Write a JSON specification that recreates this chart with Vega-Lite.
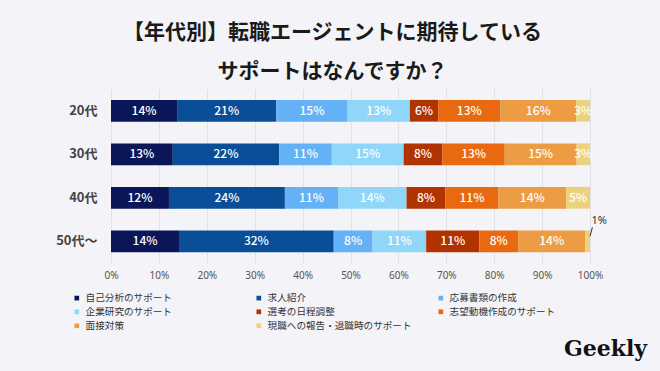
{
  "$schema": "https://vega.github.io/schema/vega-lite/v6.json",
  "width": 479,
  "height": 174,
  "autosize": {"type": "none"},
  "padding": {"left": 111, "top": 89, "right": 70, "bottom": 108},
  "background": "#f3f3f8",
  "config": {"view": {"stroke": null}, "font": "Noto Sans CJK JP"},
  "title": {
    "text": ["【年代別】転職エージェントに期待している", "サポートはなんですか？"],
    "font": "Noto Sans CJK JP",
    "fontSize": 21,
    "fontWeight": "bold",
    "color": "#1a1a1a",
    "lineHeight": 39,
    "anchor": "middle",
    "dx": -18,
    "offset": 7
  },
  "datasets": {
    "bars": [
      {"age": "20代", "cat": "自己分析のサポート", "k": 1, "v": 13.8, "label": "14%"},
      {"age": "20代", "cat": "求人紹介", "k": 2, "v": 20.7, "label": "21%"},
      {"age": "20代", "cat": "応募書類の作成", "k": 3, "v": 14.9, "label": "15%"},
      {"age": "20代", "cat": "企業研究のサポート", "k": 4, "v": 13.0, "label": "13%"},
      {"age": "20代", "cat": "選考の日程調整", "k": 5, "v": 5.9, "label": "6%"},
      {"age": "20代", "cat": "志望動機作成のサポート", "k": 6, "v": 13.0, "label": "13%"},
      {"age": "20代", "cat": "面接対策", "k": 7, "v": 15.8, "label": "16%"},
      {"age": "20代", "cat": "現職への報告・退職時のサポート", "k": 8, "v": 2.9, "label": "3%"},
      {"age": "30代", "cat": "自己分析のサポート", "k": 1, "v": 12.9, "label": "13%"},
      {"age": "30代", "cat": "求人紹介", "k": 2, "v": 22.2, "label": "22%"},
      {"age": "30代", "cat": "応募書類の作成", "k": 3, "v": 11.0, "label": "11%"},
      {"age": "30代", "cat": "企業研究のサポート", "k": 4, "v": 15.0, "label": "15%"},
      {"age": "30代", "cat": "選考の日程調整", "k": 5, "v": 8.1, "label": "8%"},
      {"age": "30代", "cat": "志望動機作成のサポート", "k": 6, "v": 13.0, "label": "13%"},
      {"age": "30代", "cat": "面接対策", "k": 7, "v": 15.0, "label": "15%"},
      {"age": "30代", "cat": "現職への報告・退職時のサポート", "k": 8, "v": 2.8, "label": "3%"},
      {"age": "40代", "cat": "自己分析のサポート", "k": 1, "v": 12.1, "label": "12%"},
      {"age": "40代", "cat": "求人紹介", "k": 2, "v": 24.2, "label": "24%"},
      {"age": "40代", "cat": "応募書類の作成", "k": 3, "v": 11.1, "label": "11%"},
      {"age": "40代", "cat": "企業研究のサポート", "k": 4, "v": 14.3, "label": "14%"},
      {"age": "40代", "cat": "選考の日程調整", "k": 5, "v": 8.1, "label": "8%"},
      {"age": "40代", "cat": "志望動機作成のサポート", "k": 6, "v": 11.1, "label": "11%"},
      {"age": "40代", "cat": "面接対策", "k": 7, "v": 14.1, "label": "14%"},
      {"age": "40代", "cat": "現職への報告・退職時のサポート", "k": 8, "v": 5.0, "label": "5%"},
      {"age": "50代～", "cat": "自己分析のサポート", "k": 1, "v": 14.2, "label": "14%"},
      {"age": "50代～", "cat": "求人紹介", "k": 2, "v": 32.3, "label": "32%"},
      {"age": "50代～", "cat": "応募書類の作成", "k": 3, "v": 8.1, "label": "8%"},
      {"age": "50代～", "cat": "企業研究のサポート", "k": 4, "v": 11.2, "label": "11%"},
      {"age": "50代～", "cat": "選考の日程調整", "k": 5, "v": 11.1, "label": "11%"},
      {"age": "50代～", "cat": "志望動機作成のサポート", "k": 6, "v": 8.1, "label": "8%"},
      {"age": "50代～", "cat": "面接対策", "k": 7, "v": 14.0, "label": "14%"},
      {"age": "50代～", "cat": "現職への報告・退職時のサポート", "k": 8, "v": 1.0, "label": ""}
    ],
    "note": [
      {"age": "50代～", "from": 100.5, "to": 100.0, "tx": 101.9, "label": "1%"}
    ]
  },
  "encoding": {
    "y": {
      "field": "age",
      "type": "nominal",
      "sort": ["20代", "30代", "40代", "50代～"],
      "scale": {"paddingInner": 0.5, "paddingOuter": 0.25},
      "axis": {
        "title": null,
        "domain": false,
        "ticks": false,
        "labelFontSize": 13,
        "labelColor": "#444444",
        "labelFontWeight": "bold",
        "labelPadding": 14
      }
    }
  },
  "layer": [
    {
      "data": {"name": "bars"},
      "mark": {"type": "bar"},
      "encoding": {
        "x": {
          "field": "v",
          "type": "quantitative",
          "stack": "zero",
          "scale": {"domain": [0, 100], "nice": false},
          "axis": {
            "values": [0, 10, 20, 30, 40, 50, 60, 70, 80, 90, 100],
            "labelExpr": "datum.value + '%'",
            "labelFont": "Noto Sans",
            "labelFontSize": 10,
            "labelColor": "#555555",
            "labelPadding": 7,
            "labelFlush": false,
            "labelOverlap": false,
            "domain": false,
            "ticks": false,
            "grid": true,
            "gridColor": "#e1e1e9",
            "gridWidth": 1,
            "title": "Geekly",
            "titleFont": "DejaVu Serif",
            "titleFontSize": 22,
            "titleFontWeight": "bold",
            "titleColor": "#111111",
            "titleX": 494,
            "titleY": 85,
            "titleAlign": "center",
            "titleBaseline": "middle"
          }
        },
        "order": {"field": "k", "type": "quantitative"},
        "color": {
          "field": "cat",
          "type": "nominal",
          "scale": {
            "domain": ["自己分析のサポート", "求人紹介", "応募書類の作成", "企業研究のサポート", "選考の日程調整", "志望動機作成のサポート", "面接対策", "現職への報告・退職時のサポート"],
            "range": ["#0b1659", "#0a4e97", "#65b1f6", "#8fd6f8", "#b13300", "#e8690f", "#ec9c42", "#ecd27c"]
          },
          "legend": {
            "orient": "none",
            "legendX": -39,
            "legendY": 204,
            "columns": 3,
            "direction": "horizontal",
            "gridAlign": "all",
            "symbolType": "square",
            "symbolSize": 22,
            "symbolStrokeWidth": 0,
            "labelFont": "Noto Sans CJK JP",
            "labelFontSize": 9.6,
            "labelColor": "#333333",
            "labelOffset": 4,
            "columnPadding": 24,
            "rowPadding": 3,
            "title": null
          }
        }
      }
    },
    {
      "data": {"name": "bars"},
      "mark": {"type": "text", "color": "white", "fontSize": 12, "fontWeight": 500, "font": "Noto Sans CJK JP"},
      "encoding": {
        "x": {"field": "v", "type": "quantitative", "stack": "zero", "bandPosition": 0.5},
        "order": {"field": "k", "type": "quantitative"},
        "text": {"field": "label"}
      }
    },
    {
      "data": {"name": "note"},
      "mark": {"type": "rule", "color": "#333333", "strokeWidth": 1, "yOffset": -14, "y2Offset": -5},
      "encoding": {
        "x": {"field": "from", "type": "quantitative"},
        "x2": {"field": "to"},
        "y2": {"field": "age"}
      }
    },
    {
      "data": {"name": "note"},
      "mark": {"type": "text", "color": "#333333", "fontSize": 11, "font": "Noto Sans", "dy": -20},
      "encoding": {
        "x": {"field": "tx", "type": "quantitative"},
        "text": {"field": "label"}
      }
    }
  ]
}
